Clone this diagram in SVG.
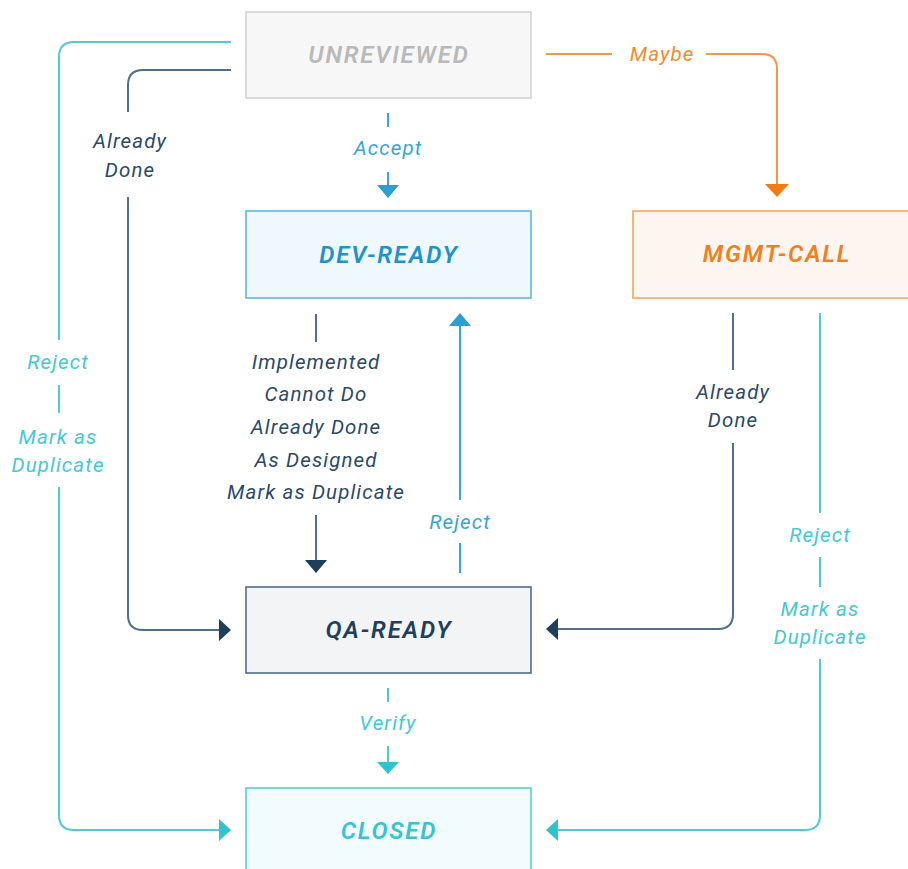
<svg xmlns="http://www.w3.org/2000/svg" width="908" height="869" viewBox="0 0 908 869">
<style>
.box{stroke-width:1.6}
.title{font-family:Roboto,"Liberation Sans",sans-serif;font-style:italic;font-weight:600;font-size:24px;text-anchor:middle;letter-spacing:1.8px}
.lbl{font-family:Roboto,"Liberation Sans",sans-serif;font-style:italic;font-size:20.5px;text-anchor:middle;letter-spacing:1.1px}
.ln{fill:none;stroke-width:2;stroke-linecap:butt}
.teal{stroke:#4fcbd5}
.dark{stroke:#4f6f8b}
.blue{stroke:#35a6d9}
.orange{stroke:#f8953f}
</style>
<rect width="908" height="869" fill="#ffffff"/>
<g id="connectors">
  <!-- UNREVIEWED -> CLOSED (left teal) -->
  <path class="ln teal" d="M231,42 H74 Q59,42 59,57 V340 M59,385 V413 M59,487 V815 Q59,830 74,830 H220"/>
  <polygon points="219,819 231,830 219,841" fill="#2fc3cd"/>
  <text class="lbl" x="58" y="369" fill="#45c8d2">Reject</text>
  <text class="lbl" x="58" y="444" fill="#45c8d2">Mark as</text>
  <text class="lbl" x="58" y="472" fill="#45c8d2">Duplicate</text>
  <!-- UNREVIEWED -> QA-READY (left dark) -->
  <path class="ln dark" d="M231,70 H143 Q128,70 128,85 V112 M128,197 V615 Q128,630 143,630 H220"/>
  <polygon points="219,619 231,630 219,641" fill="#1d3e5c"/>
  <text class="lbl" x="130" y="148" fill="#2c4a66">Already</text>
  <text class="lbl" x="130" y="177" fill="#2c4a66">Done</text>
  <!-- Accept -->
  <path class="ln blue" d="M388,113 V127 M388,172 V186"/>
  <polygon points="377,185 399,185 388,198" fill="#2a9fd5"/>
  <text class="lbl" x="388" y="155" fill="#35a6d9">Accept</text>
  <!-- Maybe -->
  <path class="ln orange" d="M546,54 H612 M706,54 H762 Q777,54 777,69 V185"/>
  <polygon points="765,184 789,184 777,197" fill="#f27c14"/>
  <text class="lbl" x="662" y="61" fill="#f58a2c">Maybe</text>
  <!-- DEV-READY -> QA-READY -->
  <path class="ln dark" d="M316,314 V342 M316,515 V561"/>
  <polygon points="305,560 327,560 316,573" fill="#1d3e5c"/>
  <text class="lbl" x="316" y="369" fill="#2c4a66">Implemented</text>
  <text class="lbl" x="316" y="401" fill="#2c4a66">Cannot Do</text>
  <text class="lbl" x="316" y="434" fill="#2c4a66">Already Done</text>
  <text class="lbl" x="316" y="467" fill="#2c4a66">As Designed</text>
  <text class="lbl" x="316" y="499" fill="#2c4a66">Mark as Duplicate</text>
  <!-- QA-READY -> DEV-READY Reject -->
  <path class="ln blue" d="M460,573 V543 M460,500 V325"/>
  <polygon points="449,326 471,326 460,313" fill="#2a9fd5"/>
  <text class="lbl" x="460" y="529" fill="#35a6d9">Reject</text>
  <!-- MGMT-CALL -> QA-READY -->
  <path class="ln dark" d="M733,313 V370 M733,443 V614 Q733,629 718,629 H557"/>
  <polygon points="558,618 546,629 558,640" fill="#1d3e5c"/>
  <text class="lbl" x="733" y="399" fill="#2c4a66">Already</text>
  <text class="lbl" x="733" y="427" fill="#2c4a66">Done</text>
  <!-- MGMT-CALL -> CLOSED -->
  <path class="ln teal" d="M820,313 V513 M820,557 V587 M820,659 V815 Q820,830 805,830 H557"/>
  <polygon points="558,819 546,830 558,841" fill="#2fc3cd"/>
  <text class="lbl" x="820" y="542" fill="#45c8d2">Reject</text>
  <text class="lbl" x="820" y="616" fill="#45c8d2">Mark as</text>
  <text class="lbl" x="820" y="644" fill="#45c8d2">Duplicate</text>
  <!-- Verify -->
  <path class="ln teal" d="M388,688 V702 M388,746 V763"/>
  <polygon points="377,762 399,762 388,774" fill="#2fc3cd"/>
  <text class="lbl" x="388" y="730" fill="#45c8d2">Verify</text>
</g>
<g id="unreviewed">
  <rect class="box" x="246" y="12" width="285" height="86" fill="#f7f7f7" stroke="#d2d2d2"/>
  <text class="title" x="389" y="63" fill="#b9b9b9">UNREVIEWED</text>
</g>
<g id="dev-ready">
  <rect class="box" x="246" y="211" width="285" height="87" fill="#eef8fd" stroke="#5ab8e2"/>
  <text class="title" x="389" y="263" fill="#1f93c9">DEV-READY</text>
</g>
<g id="mgmt-call">
  <rect class="box" x="633" y="211" width="285" height="87" fill="#fdf5ef" stroke="#f8a25c"/>
  <text class="title" x="777" y="262" fill="#f0801c">MGMT-CALL</text>
</g>
<g id="qa-ready">
  <rect class="box" x="246" y="587" width="285" height="86" fill="#f2f4f6" stroke="#4e6d88"/>
  <text class="title" x="389" y="638" fill="#1f3f5c">QA-READY</text>
</g>
<g id="closed">
  <rect class="box" x="246" y="788" width="285" height="90" fill="#f2fbfd" stroke="#55cfd8"/>
  <text class="title" x="389" y="839" fill="#36c4ce">CLOSED</text>
</g>
</svg>
